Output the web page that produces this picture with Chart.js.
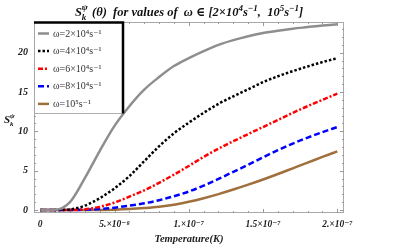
<!DOCTYPE html>
<html lang="en">
<head>
<meta charset="UTF-8">
<title>S_k^psi for values of omega</title>
<script src="https://cdn.jsdelivr.net/npm/chart.js"></script>
<style>
    body { margin: 0; background: #fff; }
    .chart-container { position: relative; width: 400px; height: 249px; }
</style>
</head>
<body>
<div class="chart-container"><canvas id="skChart"></canvas></div>
<script>
// temperature grid (K)
const temperatures = [0, 1e-8, 2e-8, 3e-8, 4e-8, 5e-8, 6e-8, 7e-8, 8e-8, 9e-8, 1e-7,
    1.1e-7, 1.2e-7, 1.3e-7, 1.4e-7, 1.5e-7, 1.6e-7, 1.7e-7, 1.8e-7, 1.9e-7, 2e-7];

// S_k^psi, one array per omega
const omega2e4 = [0, 0.02, 1.0, 4.05, 7.5, 10.7, 13.2, 15.3, 16.9, 18.3, 19.3, 20.2, 21.0, 21.6, 22.1, 22.5, 22.8, 23.05, 23.25, 23.45, 23.6];
const omega4e4 = [0, 0, 0.08, 0.55, 1.5, 2.75, 4.3, 6.2, 8.1, 9.75, 11.1, 12.35, 13.5, 14.45, 15.35, 16.25, 17.0, 17.65, 18.25, 18.8, 19.3];
const omega6e4 = [0, 0, 0, 0.08, 0.4, 0.95, 1.7, 2.5, 3.45, 4.5, 5.6, 6.75, 7.8, 8.75, 9.65, 10.55, 11.45, 12.35, 13.2, 14.0, 14.8];
const omega8e4 = [0, 0, 0, 0.03, 0.12, 0.3, 0.55, 0.85, 1.25, 1.75, 2.35, 3.1, 3.95, 4.85, 5.75, 6.7, 7.6, 8.45, 9.2, 9.9, 10.55];
const omega1e5 = [0, 0, 0, 0, 0.01, 0.04, 0.12, 0.25, 0.42, 0.68, 1.05, 1.5, 2.02, 2.6, 3.22, 3.88, 4.58, 5.3, 6.02, 6.75, 7.45];

const seriesLabels = ['ω=2×10⁴s⁻¹', 'ω=4×10⁴s⁻¹', 'ω=6×10⁴s⁻¹', 'ω=8×10⁴s⁻¹', 'ω=10⁵s⁻¹'];

const xTickValues = [0, 5e-8, 1e-7, 1.5e-7, 2e-7];
const xTickLabels = ['0', '5.×10⁻⁸', '1.×10⁻⁷', '1.5×10⁻⁷', '2.×10⁻⁷'];
const yTickValues = [0, 5, 10, 15, 20];

const serif = '"Liberation Serif", "DejaVu Serif", serif';

const styles = [
    { color: '#8e8e8e', dash: [] },
    { color: '#000000', dash: [2.5, 2] },
    { color: '#ff0000', dash: [5, 2, 2, 2] },
    { color: '#0000ff', dash: [6, 3] },
    { color: '#a0703c', dash: [] }
];

const allSeries = [omega2e4, omega4e4, omega6e4, omega8e4, omega1e5];

const datasets = allSeries.map((vals, i) => ({
    label: seriesLabels[i],
    data: vals.map((v, j) => ({ x: temperatures[j], y: v })),
    borderColor: styles[i].color,
    borderDash: styles[i].dash,
    borderWidth: 2.5,
    pointRadius: 0,
    fill: false,
    cubicInterpolationMode: 'monotone'
}));

// draws a list of [text, mode] pieces, mode: '' normal, 'sup', 'sub', or {sup, sub} stacked
function drawRich(ctx, pieces, x, y, size, style, align) {
    const big = style + ' ' + size + 'px ' + serif;
    const small = style + ' ' + Math.round(size * 0.68) + 'px ' + serif;
    const widthOf = p => {
        if (typeof p[1] === 'object') {
            ctx.font = small;
            return Math.max(ctx.measureText(p[1].sup).width, ctx.measureText(p[1].sub).width) + 1;
        }
        ctx.font = p[1] ? small : big;
        return ctx.measureText(p[0]).width;
    };
    const total = pieces.reduce((s, p) => s + widthOf(p), 0);
    let cx = align === 'center' ? x - total / 2 : x;
    ctx.textAlign = 'left';
    ctx.textBaseline = 'alphabetic';
    pieces.forEach(p => {
        const w = widthOf(p);
        if (typeof p[1] === 'object') {
            ctx.font = small;
            ctx.fillText(p[1].sup, cx, y - size * 0.45);
            ctx.fillText(p[1].sub, cx, y + size * 0.3);
        } else if (p[1] === 'sup') {
            ctx.font = small;
            ctx.fillText(p[0], cx, y - size * 0.4);
        } else if (p[1] === 'sub') {
            ctx.font = small;
            ctx.fillText(p[0], cx, y + size * 0.3);
        } else {
            ctx.font = big;
            ctx.fillText(p[0], cx, y);
        }
        cx += w;
    });
}

const framePlugin = {
    id: 'frame',
    beforeDatasetsDraw(chart) {
        const { ctx, chartArea: a, scales } = chart;
        ctx.save();
        ctx.strokeStyle = '#a8a8a8';
        ctx.lineWidth = 1;
        ctx.strokeRect(a.left + 0.5, a.top + 0.5, a.right - a.left - 1, a.bottom - a.top - 1);
        ctx.strokeStyle = '#9a9a9a';
        ctx.beginPath();
        for (let k = 0; k <= 20; k++) {
            const px = Math.round(scales.x.getPixelForValue(k * 1e-8)) + 0.5;
            const len = k % 5 === 0 ? 4 : 2;
            ctx.moveTo(px, a.bottom); ctx.lineTo(px, a.bottom - len);
            ctx.moveTo(px, a.top); ctx.lineTo(px, a.top + len);
        }
        for (let k = 0; k <= 23; k++) {
            const py = Math.round(scales.y.getPixelForValue(k)) + 0.5;
            const len = k % 5 === 0 ? 4 : 2;
            ctx.moveTo(a.left, py); ctx.lineTo(a.left + len, py);
            ctx.moveTo(a.right, py); ctx.lineTo(a.right - len, py);
        }
        ctx.stroke();
        ctx.restore();
    }
};

const legendBoxPlugin = {
    id: 'legendBox',
    afterDatasetsDraw(chart) {
        const { ctx, chartArea: a } = chart;
        const right = 123, bottom = 113.5;
        ctx.save();
        ctx.fillStyle = '#fff';
        ctx.fillRect(a.left + 1, a.top, right - a.left - 1, bottom - a.top);
        ctx.strokeStyle = '#b0b0b0';
        ctx.lineWidth = 1;
        ctx.beginPath();
        ctx.moveTo(a.left, bottom); ctx.lineTo(right, bottom);
        ctx.stroke();
        ctx.strokeStyle = '#000';
        ctx.lineWidth = 2.5;
        ctx.beginPath();
        ctx.moveTo(a.left, a.top + 0.5); ctx.lineTo(right, a.top + 0.5); ctx.lineTo(right, bottom);
        ctx.stroke();
        chart.data.datasets.forEach((ds, i) => {
            const y = 33.5 + i * 17.6;
            ctx.strokeStyle = ds.borderColor;
            ctx.lineWidth = 2.5;
            ctx.setLineDash(ds.borderDash);
            ctx.beginPath();
            ctx.moveTo(38, y); ctx.lineTo(49, y);
            ctx.stroke();
            ctx.setLineDash([]);
            ctx.fillStyle = '#333';
            ctx.font = '10px ' + serif;
            ctx.textAlign = 'left';
            ctx.textBaseline = 'middle';
            ctx.fillText(ds.label, 53, y + 0.5);
        });
        ctx.restore();
    }
};

const textPlugin = {
    id: 'richText',
    afterDraw(chart) {
        const ctx = chart.ctx;
        ctx.save();
        ctx.fillStyle = '#111';
        drawRich(ctx, [['S', ''], ['', { sup: 'ψ', sub: 'k' }],
            [' (θ)  for values of  ω ∈ [2×10', ''], ['4', 'sup'], ['s', ''], ['−1', 'sup'],
            [',  10', ''], ['5', 'sup'], ['s', ''], ['−1', 'sup'], [']', '']],
            189, 16, 12.5, 'italic bold', 'center');
        drawRich(ctx, [['S', ''], ['', { sup: 'ψ', sub: 'k' }]], 4, 123, 11, 'italic bold', 'left');
        ctx.restore();
    }
};

new Chart(document.getElementById('skChart'), {
    type: 'line',
    data: { datasets: datasets },
    options: {
        responsive: true,
        maintainAspectRatio: false,
        animation: false,
        layout: { padding: { top: 22, right: 56, left: 0, bottom: 0 } },
        plugins: { legend: { display: false }, title: { display: false }, tooltip: { enabled: false } },
        scales: {
            x: {
                type: 'linear',
                min: -4.2e-9,
                max: 2.045e-7,
                afterBuildTicks: s => { s.ticks = xTickValues.map(v => ({ value: v })); },
                afterFit: s => { s.height = 36; },
                grid: { display: false, drawTicks: false },
                border: { display: false },
                ticks: {
                    padding: 6,
                    maxRotation: 0,
                    autoSkip: false,
                    color: '#222',
                    font: { family: serif, size: 9.5, style: 'italic', weight: 'bold' },
                    callback: (v, i) => xTickLabels[i]
                },
                title: {
                    display: true,
                    text: 'Temperature(K)',
                    color: '#222',
                    padding: { top: 0, bottom: 3 },
                    font: { family: serif, size: 10.5, style: 'italic', weight: 'bold' }
                }
            },
            y: {
                min: -0.38,
                max: 23.9,
                afterBuildTicks: s => { s.ticks = yTickValues.map(v => ({ value: v })); },
                afterFit: s => { s.width = 34; },
                grid: { display: false, drawTicks: false },
                border: { display: false },
                ticks: {
                    padding: 6,
                    color: '#222',
                    font: { family: serif, size: 10, style: 'italic', weight: 'bold' }
                }
            }
        }
    },
    plugins: [framePlugin, legendBoxPlugin, textPlugin]
});
</script>
</body>
</html>
